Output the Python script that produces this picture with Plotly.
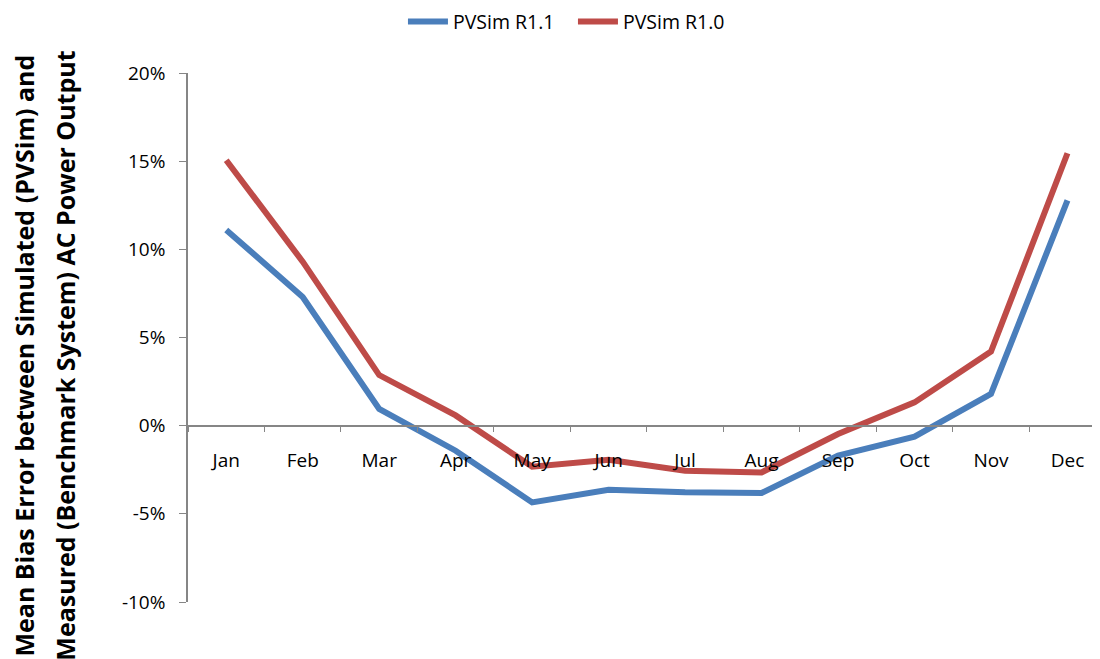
import plotly.graph_objects as go

months = ["Jan", "Feb", "Mar", "Apr", "May", "Jun", "Jul", "Aug", "Sep", "Oct", "Nov", "Dec"]
r11 = [11.1, 7.3, 0.95, -1.42, -4.35, -3.63, -3.78, -3.82, -1.7, -0.62, 1.8, 12.78]
r10 = [15.05, 9.3, 2.87, 0.58, -2.33, -1.93, -2.55, -2.65, -0.47, 1.32, 4.2, 15.45]
ytick_vals = [-10, -5, 0, 5, 10, 15, 20]
ytick_text = ["-10%", "-5%", "0%", "5%", "10%", "15%", "20%"]
title_lines = ["Mean Bias Error between Simulated (PVSim) and",
               "Measured (Benchmark System) AC Power Output"]

FONT = "Open Sans"
fig = go.Figure()
fig.add_trace(go.Scatter(x=months, y=r11, mode="lines", name="PVSim R1.1",
                         line=dict(color="#4A7EBB", width=6)))
fig.add_trace(go.Scatter(x=months, y=r10, mode="lines", name="PVSim R1.0",
                         line=dict(color="#BE4B48", width=6)))

fig.update_layout(
    width=1100, height=659,
    margin=dict(l=180, r=0, t=65, b=65),
    plot_bgcolor="white", paper_bgcolor="white",
    font=dict(family=FONT, color="black", size=19),
    showlegend=True,
    legend=dict(orientation="h", xref="container", yref="container",
                x=0.5136, xanchor="center", y=0.979, yanchor="middle",
                font=dict(size=19.5, family=FONT), itemwidth=40,
                entrywidth=115, entrywidthmode="pixels", traceorder="normal"),
    xaxis=dict(
        type="category", range=[-0.5, 11.53],
        anchor="free", position=1/3,
        showline=True, linecolor="#868686", linewidth=1.5,
        ticks="outside", ticklen=6, tickcolor="#868686", tickson="boundaries",
        showgrid=False, zeroline=False,
        ticklabelstandoff=18,
        tickfont=dict(size=19, family=FONT),
    ),
    yaxis=dict(
        range=[-10, 20], tickvals=ytick_vals, ticktext=ytick_text,
        showline=True, linecolor="#868686", linewidth=1.5,
        ticks="outside", ticklen=7, tickcolor="#868686",
        showgrid=False, zeroline=False,
        ticklabelstandoff=10,
        tickfont=dict(size=19, family=FONT),
    ),
)

for xpos, line in zip([-0.1782, -0.1335], title_lines):
    fig.add_annotation(
        text="<b>" + line + "</b>", textangle=-90, xref="paper", yref="paper",
        x=xpos, y=0.466, xanchor="center", yanchor="middle",
        showarrow=False, font=dict(size=25, family=FONT, color="black"),
    )

fig.write_html("out.html")
